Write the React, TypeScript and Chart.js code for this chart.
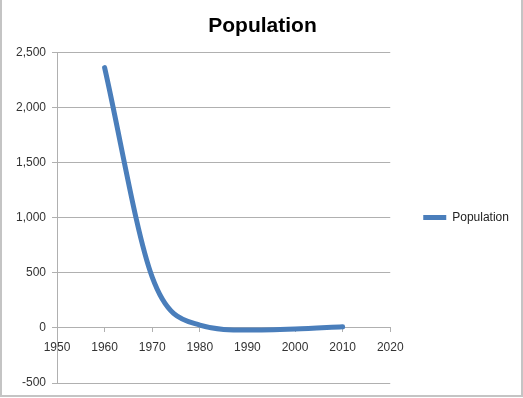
import React, { useEffect, useRef } from "react";
import { Chart, registerables } from "chart.js";

Chart.register(...registerables);

const chartTitle = "Population";
const seriesName = "Population";
const years = [1960, 1970, 1980, 1990, 2000, 2010];
const population = [2360, 460, 25, -20, -10, 10];
const xMin = 1950;
const xMax = 2020;
const xStep = 10;
const yMin = -500;
const yMax = 2500;
const yStep = 500;

const FONT = "'Liberation Sans', Arial, Helvetica, sans-serif";

export default function App() {
  const ref = useRef<HTMLCanvasElement | null>(null);

  useEffect(() => {
    if (!ref.current) return;
    const points = years.map((x, i) => ({ x, y: population[i] }));
    const chart = new Chart(ref.current, {
      type: "scatter",
      data: {
        datasets: [
          {
            label: seriesName,
            data: points,
            showLine: true,
            borderColor: "#4a7ebb",
            backgroundColor: "#4a7ebb",
            borderWidth: 5,
            borderCapStyle: "round",
            cubicInterpolationMode: "monotone",
            pointRadius: 0,
            pointHoverRadius: 0,
            fill: false,
          },
        ],
      },
      options: {
        responsive: false,
        animation: false,
        events: [],
        layout: { padding: { left: 7, right: 5, top: 0, bottom: 15 } },
        plugins: {
          title: {
            display: true,
            text: chartTitle,
            color: "#000",
            font: { family: FONT, size: 21, weight: "bold" },
            padding: { top: 13.5, bottom: 13.5 },
          },
          legend: {
            display: true,
            position: "right",
            fullSize: false,
            labels: {
              usePointStyle: true,
              pointStyle: "line",
              pointStyleWidth: 23,
              padding: 33,
              color: "#222",
              font: { family: FONT, size: 12 },
            },
          },
          tooltip: { enabled: false },
        },
        scales: {
          x: {
            type: "linear",
            position: { y: 0 } as any,
            min: xMin,
            max: xMax,
            ticks: {
              stepSize: xStep,
              color: "#333",
              padding: 9,
              maxRotation: 0,
              font: { family: FONT, size: 12 },
              callback: (v: any) => String(v),
            },
            grid: {
              drawOnChartArea: false,
              drawTicks: true,
              tickLength: 4,
              color: "#b0b0b0",
            },
            border: { display: true, color: "#b0b0b0", width: 1 },
          },
          y: {
            type: "linear",
            min: yMin,
            max: yMax,
            ticks: {
              stepSize: yStep,
              color: "#333",
              padding: 6,
              font: { family: FONT, size: 12 },
            },
            grid: {
              color: "#b0b0b0",
              lineWidth: 1,
              drawTicks: true,
              tickLength: 5,
            },
            border: { display: true, color: "#b0b0b0", width: 1 },
            afterFit: (s: any) => {
              s.width = 50;
            },
          },
        },
      },
    });
    return () => chart.destroy();
  }, []);

  return (
    <div
      style={{
        position: "fixed",
        left: 0,
        top: 0,
        width: 523,
        height: 398,
        background: "#fff",
      }}
    >
      <canvas ref={ref} width={523} height={398} style={{ display: "block" }} />
      <div
        style={{
          position: "absolute",
          left: 0,
          top: 0,
          width: 523,
          height: 397,
          boxSizing: "border-box",
          borderLeft: "2px solid #c4c4c4",
          borderRight: "2px solid #c4c4c4",
          borderBottom: "2px solid #c4c4c4",
          pointerEvents: "none",
        }}
      />
    </div>
  );
}
